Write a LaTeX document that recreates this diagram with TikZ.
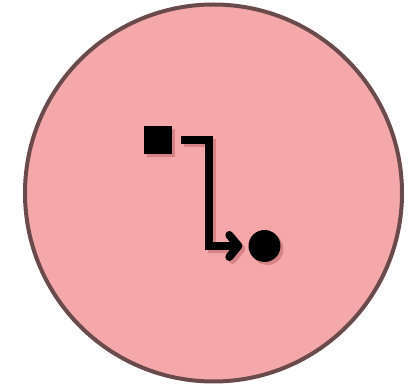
\documentclass[tikz,border=0pt]{standalone}
\usetikzlibrary{arrows.meta,shadows}
\definecolor{diskfill}{HTML}{F5A8AA}
\definecolor{diskline}{HTML}{6B4A4B}
\tikzset{
  disk/.style={circle, draw=diskline, line width=4pt, fill=diskfill, minimum size=377pt, inner sep=0pt},
  shad/.style={drop shadow={shadow xshift=3pt, shadow yshift=-3pt, opacity=0.22, fill=black!60!red}},
  sqnode/.style={rectangle, fill=black, minimum size=28pt, inner sep=0pt, shad},
  dotnode/.style={circle, fill=black, minimum size=32pt, inner sep=0pt, shad},
  conn/.style={line width=8pt, line join=miter, shorten <=9pt, shorten >=6pt,
    -{Straight Barb[length=9pt, width=22pt, round]}}
}
\begin{document}
\begin{tikzpicture}[x=1pt,y=-1pt]
\useasboundingbox (0,0) rectangle (418,387);
\node[disk] (disk) at (213.5,193) {};
\node[sqnode] (sq) at (158,140.5) {};
\node[dotnode] (dot) at (264.5,246) {};
\coordinate (bend) at (209,246);
\draw[conn, black!60!red, opacity=0.22] ([xshift=3pt,yshift=-3pt]sq.east) -| ([xshift=3pt,yshift=-3pt]bend) -- ([xshift=3pt,yshift=-3pt]dot.west);
\draw[conn] (sq.east) -| (bend) -- (dot.west);
\end{tikzpicture}
\end{document}
